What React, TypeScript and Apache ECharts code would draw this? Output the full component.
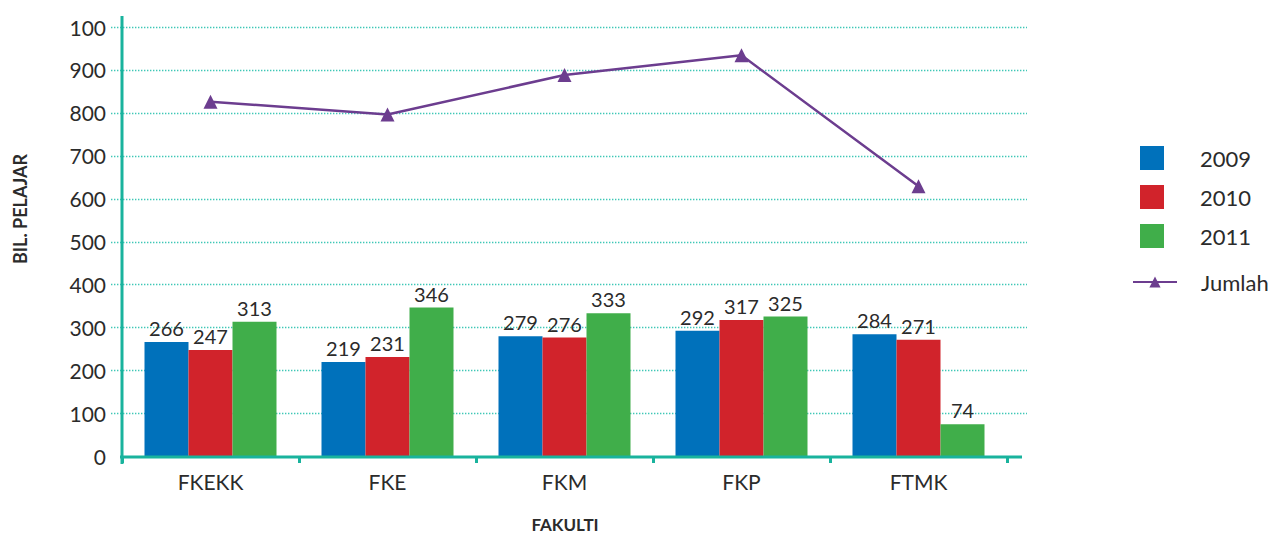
import React, { useEffect, useRef } from "react";
import * as echarts from "echarts";

const categories = ["FKEKK", "FKE", "FKM", "FKP", "FTMK"];
const seriesNames = ["2009", "2010", "2011"];
const values2009 = [266, 219, 279, 292, 284];
const values2010 = [247, 231, 276, 317, 271];
const values2011 = [313, 346, 333, 325, 74];
const jumlah = [826, 796, 888, 934, 629];
const yTicks = [0, 100, 200, 300, 400, 500, 600, 700, 800, 900, 1000];
const yTickLabels = ["0", "100", "200", "300", "400", "500", "600", "700", "800", "900", "100"];

const FONT = "Lato";
const TEXT = "#2b2b2b";
const TEAL = "#19b39d";
const GRIDC = "#3fc7b6";
const BLUE = "#0071bb";
const RED = "#d1232b";
const GREEN = "#40ae4a";
const PURPLE = "#6c3d8f";

const GRID_LEFT = 122;
const GRID_TOP = 27;
const GRID_W = 885;
const GRID_H = 429;

export default function App() {
  const ref = useRef<HTMLDivElement>(null);
  useEffect(() => {
    if (!ref.current) return;
    const chart = echarts.init(ref.current, null, { renderer: "svg" });
    const barSeries = [values2009, values2010, values2011].map((d, i) => ({
      name: seriesNames[i],
      type: "bar",
      data: d,
      barWidth: 44,
      barGap: "0%",
      itemStyle: { color: [BLUE, RED, GREEN][i] },
      label: {
        show: true,
        position: "top",
        distance: 4,
        fontFamily: FONT,
        fontSize: 20,
        color: TEXT,
      },
      z: 2,
    }));
    const option: any = {
      animation: false,
      textStyle: { fontFamily: FONT },
      grid: { left: GRID_LEFT, top: GRID_TOP, width: GRID_W, height: GRID_H, containLabel: false },
      legend: [
        {
          data: seriesNames,
          orient: "vertical",
          left: 1135,
          top: 141,
          itemWidth: 24,
          itemHeight: 24,
          itemGap: 15,
          icon: "rect",
          textStyle: { fontFamily: FONT, fontSize: 22, color: TEXT, padding: [0, 0, 0, 31] },
        },
        {
          data: ["Jumlah"],
          orient: "vertical",
          left: 1127,
          top: 266,
          itemWidth: 44,
          itemHeight: 14,
          textStyle: { fontFamily: FONT, fontSize: 22, color: TEXT, padding: [0, 0, 0, 19] },
        },
      ],
      xAxis: {
        type: "category",
        data: categories,
        boundaryGap: true,
        axisLine: { show: false },
        axisTick: { show: true, length: 7, lineStyle: { color: TEAL, width: 3 } },
        axisLabel: { fontFamily: FONT, fontSize: 21, color: TEXT, margin: 15 },
      },
      yAxis: {
        type: "value",
        min: 0,
        max: 1000,
        interval: 100,
        axisLine: { show: false },
        axisTick: { show: false },
        splitLine: { show: false },
        axisLabel: {
          fontFamily: FONT,
          fontSize: 21,
          color: TEXT,
          margin: 16,
          formatter: (v: number) => {
            const i = yTicks.indexOf(v);
            return i >= 0 ? yTickLabels[i] : String(v);
          },
        },
      },
      series: [
        ...barSeries,
        {
          name: "Jumlah",
          type: "line",
          data: jumlah,
          symbol: "triangle",
          symbolSize: 14,
          itemStyle: { color: PURPLE },
          lineStyle: { color: PURPLE, width: 2.5 },
          z: 5,
        },
      ],
    };
    chart.setOption(option);

    const yPix = (v: number) => chart.convertToPixel({ yAxisIndex: 0 }, v) as number;
    const y0 = yPix(0);
    const elements: any[] = [];
    yTicks.forEach((t) => {
      if (t === 0) return;
      const y = Math.round(yPix(t)) + 0.5;
      elements.push({
        type: "line",
        z: -1,
        silent: true,
        shape: { x1: GRID_LEFT - 11, y1: y, x2: GRID_LEFT + GRID_W + 20, y2: y },
        style: { stroke: GRIDC, lineWidth: 1.4, lineDash: [1.4, 1.6] },
      });
    });
    elements.push({
      type: "line",
      z: 10,
      silent: true,
      shape: { x1: GRID_LEFT, y1: GRID_TOP - 11, x2: GRID_LEFT, y2: y0 + 8 },
      style: { stroke: TEAL, lineWidth: 3 },
    });
    elements.push({
      type: "line",
      z: 10,
      silent: true,
      shape: { x1: GRID_LEFT - 2, y1: y0 + 1, x2: GRID_LEFT + GRID_W + 15, y2: y0 + 1 },
      style: { stroke: TEAL, lineWidth: 3 },
    });
    elements.push({
      type: "text",
      x: 20,
      y: 209,
      rotation: Math.PI / 2,
      style: {
        text: "BIL. PELAJAR",
        align: "center",
        verticalAlign: "middle",
        font: `bold 18px ${FONT}`,
        fill: TEXT,
      },
    });
    elements.push({
      type: "text",
      x: 565,
      y: 524,
      style: {
        text: "FAKULTI",
        align: "center",
        verticalAlign: "middle",
        font: `bold 17px ${FONT}`,
        fill: TEXT,
      },
    });
    chart.setOption({ graphic: { elements } });

    return () => chart.dispose();
  }, []);
  return <div ref={ref} style={{ width: 1287, height: 535, position: "absolute", left: 0, top: 0 }} />;
}
